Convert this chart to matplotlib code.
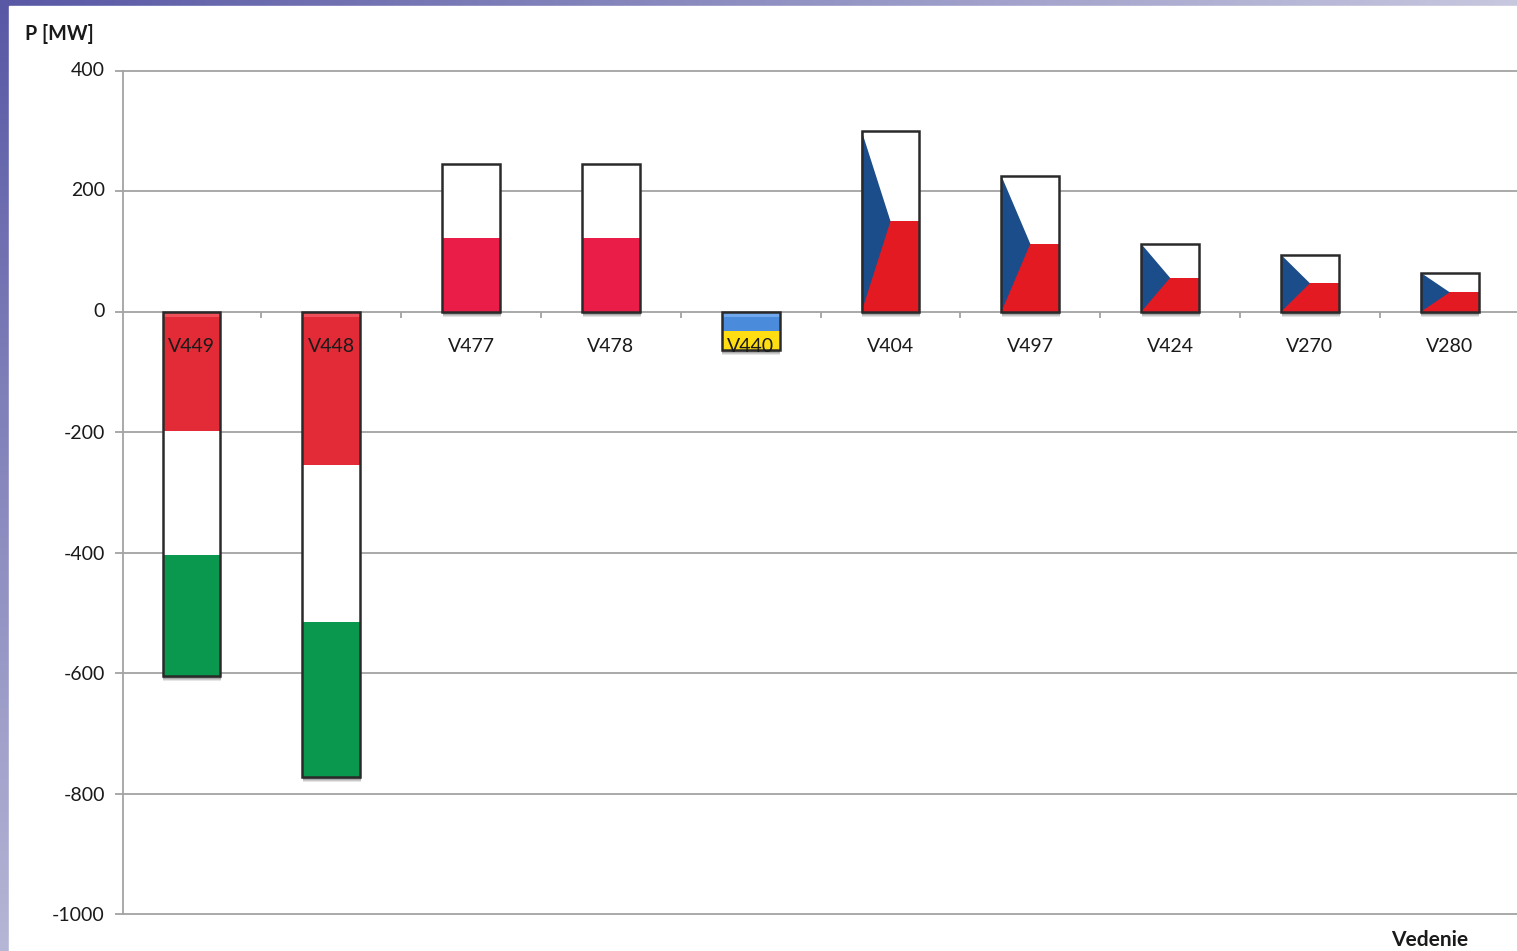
import matplotlib
matplotlib.use("Agg")
import matplotlib.pyplot as plt
import matplotlib.patheffects as pe
from matplotlib.transforms import ScaledTranslation
import numpy as np

plt.rcParams['font.family'] = ['Lato', 'DejaVu Sans']
plt.rcParams['axes.unicode_minus'] = False

lines = ['V449', 'V448', 'V477', 'V478', 'V440', 'V404', 'V497', 'V424', 'V270', 'V280']
power = [-605, -773, 246, 246, -63, 301, 226, 113, 95, 65]
flags = ['hu', 'hu', 'pl', 'pl', 'ua', 'cz', 'cz', 'cz', 'cz', 'cz']
y_ticks = [400, 200, 0, -200, -400, -600, -800, -1000]

# stripes from the axis outwards, as (colour, share of the bar)
stripes = {
    'hu': [('#e22b36', 0.328), ('#ffffff', 0.339), ('#0a984e', 0.333)],
    'pl': [('#ea1c48', 1/2), ('#ffffff', 1/2)],
    'ua': [('#4a8bdc', 1/2), ('#fede12', 1/2)],
    'cz': [('#e41a22', 1/2), ('#ffffff', 1/2)],
}
# lighter bevel at the top of the bars that hang below the axis
bevel = {'hu': '#f0505a', 'ua': '#6fa8ec'}
CZ_BLUE = '#1a4d8a'
BAR_WIDTH = 0.414
W, H = 1517, 951
STEP = 139.8  # pixels per category

fig = plt.figure(figsize=(W / 100, H / 100), dpi=100)

# slide background, only the thin strips on the left and top stay visible
bg = fig.add_axes([0, 0, 1, 1], zorder=-1)
xx, yy = np.meshgrid(np.linspace(0, 1, 200), np.linspace(0, 1, 200))
t = np.clip(xx * 0.95 + yy * 0.8, 0, 1)[..., None]
bg.imshow((1 - t) * np.array([88, 88, 165]) / 255 + t * np.array([205, 205, 226]) / 255,
          extent=[0, W, H, 0], aspect='auto')
bg.add_patch(plt.Rectangle((9, 6), W, H, color='white'))
bg.set_xlim(0, W)
bg.set_ylim(H, 0)
bg.axis('off')

ax = fig.add_axes([123 / W, 1 - 914 / H, (W - 123) / W, (914 - 71) / H])
ax.patch.set_alpha(0)
x = np.arange(len(lines))

# gridlines by hand so the category labels can sit over the bars
for tick in y_ticks:
    ax.axhline(tick, color='#a3a3a3', lw=1.3, zorder=0.5, clip_on=False)

# soft shadow under the bars
for off, a in [(5, 0.10), (4, 0.12), (3, 0.15), (2, 0.18)]:
    shadow = ax.bar(x, power, BAR_WIDTH, facecolor='none', edgecolor='none', zorder=0.8)
    for b in shadow:
        b.set_path_effects([pe.SimplePatchShadow(offset=(0.5, -off * 0.72), shadow_rgbFace='black', alpha=a)])

for i, (val, flag) in enumerate(zip(power, flags)):
    base = 0
    for colour, share in stripes[flag]:
        ax.bar(i, val * share, BAR_WIDTH, bottom=base, color=colour, lw=0, zorder=1)
        base += val * share
    if flag in bevel:
        ax.bar(i, -9, BAR_WIDTH, color=bevel[flag], lw=0, zorder=1.05)
    if flag == 'cz':
        ax.fill([i - BAR_WIDTH / 2, i, i - BAR_WIDTH / 2], [0, val / 2, val], color=CZ_BLUE, lw=0, zorder=1.1)
ax.bar(x, power, BAR_WIDTH, facecolor='none', edgecolor='#2a2a2a', lw=1.8, zorder=1.2)

for side in ['top', 'right', 'bottom']:
    ax.spines[side].set_visible(False)
ax.spines['bottom'].set_position(('data', 0))
ax.spines['left'].set_color('#a3a3a3')
ax.spines['left'].set_linewidth(1.3)

ax.set_yticks(y_ticks)
ax.tick_params(axis='y', length=6, width=1.3, color='#a3a3a3', labelsize=14, labelcolor='#1a1a1a', pad=7)
ax.set_xticks(x, lines)
ax.set_xticks(x[1:] - 0.5, minor=True)
ax.tick_params(axis='x', which='major', length=0, pad=18.5, labelsize=14, labelcolor='#1a1a1a')
ax.tick_params(axis='x', which='minor', length=4, width=1.3, color='#a3a3a3')

# limits last, set_xticks would widen them otherwise
ax.set_xlim((123 - 191.5) / STEP, (W - 191.5) / STEP)
ax.set_ylim(-1000, 400)

# the upper y labels sit slightly above their gridlines in the original
lift = ScaledTranslation(0, 2 / 100, fig.dpi_scale_trans)
for tick, label in zip(y_ticks, ax.get_yticklabels()):
    if tick >= 0:
        label.set_transform(label.get_transform() + lift)

fig.text(25 / W, 1 - 34 / H, 'P [MW]', fontsize=14.2, fontweight='bold', va='center', color='#1a1a1a')
fig.text(1391 / W, 1 - 940 / H, 'Vedenie', fontsize=15, fontweight='bold', va='center', color='#1a1a1a')

fig.savefig('out.png', dpi=100)
